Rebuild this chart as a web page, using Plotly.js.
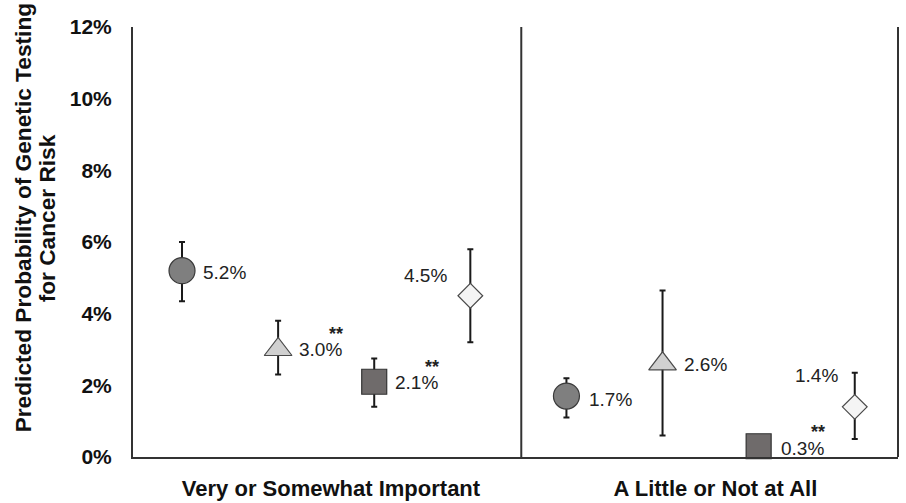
<!DOCTYPE html>
<html><head><meta charset="utf-8">
<script src="https://cdn.plot.ly/plotly-3.0.1.min.js"></script>
<style>html,body{margin:0;padding:0;background:#fff}</style>
</head><body><div id="chart" style="width:906px;height:503px"></div>
<script>
// ---- data ----
const groups = ['Very or Somewhat Important', 'A Little or Not at All'];
const seriesNames = ['Circle', 'Triangle', 'Square', 'Diamond'];
const circleValues = [5.2, 1.7];
const circleUpper = [6.0, 2.2];
const circleLower = [4.35, 1.1];
const triangleValues = [3.0, 2.6];
const triangleUpper = [3.8, 4.65];
const triangleLower = [2.3, 0.6];
const squareValues = [2.1, 0.3];
const squareUpper = [2.75, 0.5];
const squareLower = [1.4, 0.15];
const diamondValues = [4.5, 1.4];
const diamondUpper = [5.8, 2.35];
const diamondLower = [3.2, 0.5];
const circleStars = ['', ''];
const triangleStars = ['**', ''];
const squareStars = ['**', '**'];
const diamondStars = ['', ''];
const yTickValues = [0, 2, 4, 6, 8, 10, 12];

// ---- styles ----
const FONT = 'Liberation Sans, Arial, sans-serif';
const series = [
  {name: seriesNames[0], v: circleValues, up: circleUpper, lo: circleLower, stars: circleStars,
   symbol: 'circle', size: 26, fill: '#7f7f7f', line: '#3a3a3a',
   lab: [{xs: 19, ys: -2, anchor: 'left'}, {xs: 21, ys: -3, anchor: 'left'}]},
  {name: seriesNames[1], v: triangleValues, up: triangleUpper, lo: triangleLower, stars: triangleStars,
   symbol: 'triangle-up', size: 24, fill: '#d0d0d0', line: '#4a4a4a',
   lab: [{xs: 19, ys: 0, anchor: 'left'}, {xs: 19, ys: -1, anchor: 'left'}]},
  {name: seriesNames[2], v: squareValues, up: squareUpper, lo: squareLower, stars: squareStars,
   symbol: 'square', size: 25, fill: '#6f6b6b', line: '#333333',
   lab: [{xs: 19, ys: -1, anchor: 'left'}, {xs: 20, ys: -2, anchor: 'left'}]},
  {name: seriesNames[3], v: diamondValues, up: diamondUpper, lo: diamondLower, stars: diamondStars,
   symbol: 'diamond', size: 19, fill: '#f4f4f4', line: '#4a4a4a',
   lab: [{xs: -21, ys: 20, anchor: 'right'}, {xs: -15, ys: 31, anchor: 'right'}]}
];

const nS = series.length;
function xPos(g, s) { return g * nS + s + 1; }

const traces = [];
const annotations = [];
series.forEach((s, si) => {
  const xs = groups.map((g, gi) => xPos(gi, si));
  traces.push({
    type: 'scatter', mode: 'markers', name: s.name, x: xs, y: s.v,
    marker: {symbol: s.symbol, size: s.size, color: s.fill, line: {color: s.line, width: 1.2}},
    error_y: {type: 'data', symmetric: false,
      array: s.v.map((v, i) => s.up[i] - v),
      arrayminus: s.v.map((v, i) => v - s.lo[i]),
      color: '#1a1a1a', thickness: 2, width: 3},
    hoverinfo: 'skip', cliponaxis: false
  });
  s.v.forEach((v, gi) => {
    const L = s.lab[gi];
    annotations.push({x: xs[gi], y: v, xref: 'x', yref: 'y', text: v.toFixed(1) + '%',
      showarrow: false, xanchor: L.anchor, yanchor: 'middle', xshift: L.xs, yshift: L.ys,
      font: {family: FONT, size: 19, color: '#222'}});
    if (s.stars[gi]) {
      annotations.push({x: xs[gi], y: v, xref: 'x', yref: 'y', text: '<b>' + s.stars[gi] + '</b>',
        showarrow: false, xanchor: 'right', yanchor: 'middle', xshift: L.xs + 48, yshift: L.ys + 16,
        font: {family: FONT, size: 18, color: '#222'}});
    }
  });
});

// y-axis title as two rotated lines
annotations.push({xref: 'paper', yref: 'paper', x: 0, y: 0.555, xshift: -110, text: '<b>Predicted Probability of Genetic Testing</b>',
  showarrow: false, textangle: -90, xanchor: 'center', yanchor: 'middle', font: {family: FONT, size: 22.7, color: '#111'}});
annotations.push({xref: 'paper', yref: 'paper', x: 0, y: 0.555, xshift: -86, text: '<b>for Cancer Risk</b>',
  showarrow: false, textangle: -90, xanchor: 'center', yanchor: 'middle', font: {family: FONT, size: 22.7, color: '#111'}});

const divider = nS + 0.53;
const shapes = [
  {type: 'line', xref: 'x', yref: 'y', x0: divider, x1: divider, y0: 0, y1: 12, line: {color: '#333', width: 2}},
  {type: 'line', xref: 'paper', yref: 'y', x0: 1, x1: 1, y0: 0, y1: 12, line: {color: '#333', width: 2}}
];

const layout = {
  width: 906, height: 503,
  margin: {l: 133, r: 8, t: 27, b: 46},
  paper_bgcolor: '#fff', plot_bgcolor: '#fff',
  showlegend: false,
  xaxis: {range: [0.49, 8.45], showgrid: false, zeroline: false, showline: true, linecolor: '#333', linewidth: 2,
    tickvals: groups.map((g, gi) => gi * nS + 2.55), ticktext: groups.map(g => '<b>' + g + '</b>'),
    ticks: '', ticklabelstandoff: 11, tickfont: {family: FONT, size: 22, color: '#111'}},
  yaxis: {range: [0, 12], showgrid: false, zeroline: false, showline: true, linecolor: '#333', linewidth: 2,
    tickvals: yTickValues, ticktext: yTickValues.map(v => '<b>' + v + '%</b>'),
    ticks: '', ticklabelstandoff: 15, tickfont: {family: FONT, size: 21, color: '#111'}},
  shapes: shapes, annotations: annotations
};

Plotly.newPlot('chart', traces, layout, {staticPlot: true, displayModeBar: false});
</script></body></html>
